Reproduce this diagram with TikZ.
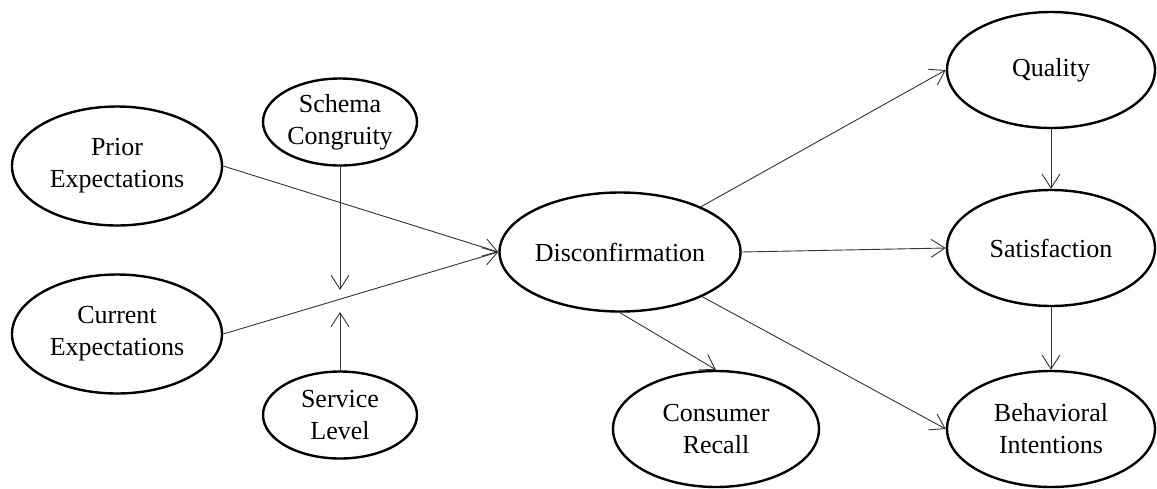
\documentclass[tikz,border=0pt]{standalone}
\usepackage{fontspec}
\setmainfont{Liberation Serif}
\usetikzlibrary{shapes.geometric,arrows.meta,calc}

\tikzset{
  construct/.style={ellipse, draw=black, line width=2.4pt, inner sep=0pt,
    align=center, font=\fontsize{26}{32}\selectfont},
  bigconstruct/.style={construct, minimum width=210pt, minimum height=119pt},
  smallconstruct/.style={construct, minimum width=154pt, minimum height=87pt},
  outcome/.style={construct, minimum width=208pt, minimum height=116pt},
  link/.style={draw=black!80, line width=0.9pt,
    -{Straight Barb[length=14pt,width=18pt,line width=0.9pt]}}
}

\begin{document}
\begin{tikzpicture}[x=1pt,y=-1pt]
  \useasboundingbox (0,0) rectangle (1157,488);

  % antecedents
  \node[bigconstruct] (prior)   at (117,166) {Prior\\Expectations};
  \node[bigconstruct] (current) at (117,334) {Current\\Expectations};
  \node[smallconstruct] (schema)  at (340,122) {Schema\\Congruity};
  \node[smallconstruct] (service) at (340,415) {Service\\Level};

  % mediator
  \node[bigconstruct] (disc) at (620,252) {Disconfirmation};

  % consequences
  \node[outcome, minimum width=206pt] (recall) at (716,429) {Consumer\\Recall};
  \node[outcome] (quality) at (1051,70)  {Quality};
  \node[outcome] (satis)   at (1051,248) {Satisfaction};
  \node[outcome] (behav)   at (1051,429) {Behavioral\\Intentions};

  % expectation paths
  \draw[link] (prior.east) -- (disc.west);
  \draw[link] (current.east) -- (disc.west);

  % moderators pointing at the current-expectations path
  \coordinate (mod) at ($(current.east)!0.403!(disc.west)$);
  \draw[link, shorten >=11pt] (schema.south) -- (schema.south |- mod);
  \draw[link, shorten >=11pt] (service.north) -- (service.north |- mod);

  % outcomes of disconfirmation
  \draw[link] (disc) -- (quality.west);
  \draw[link] (disc.east) -- (satis.west);
  \draw[link] (disc) -- (behav.west);
  \draw[link] (disc.south) -- (recall.north);

  % chain on the right
  \draw[link] (quality.south) -- (satis.north);
  \draw[link] (satis.south) -- (behav.north);
\end{tikzpicture}
\end{document}
